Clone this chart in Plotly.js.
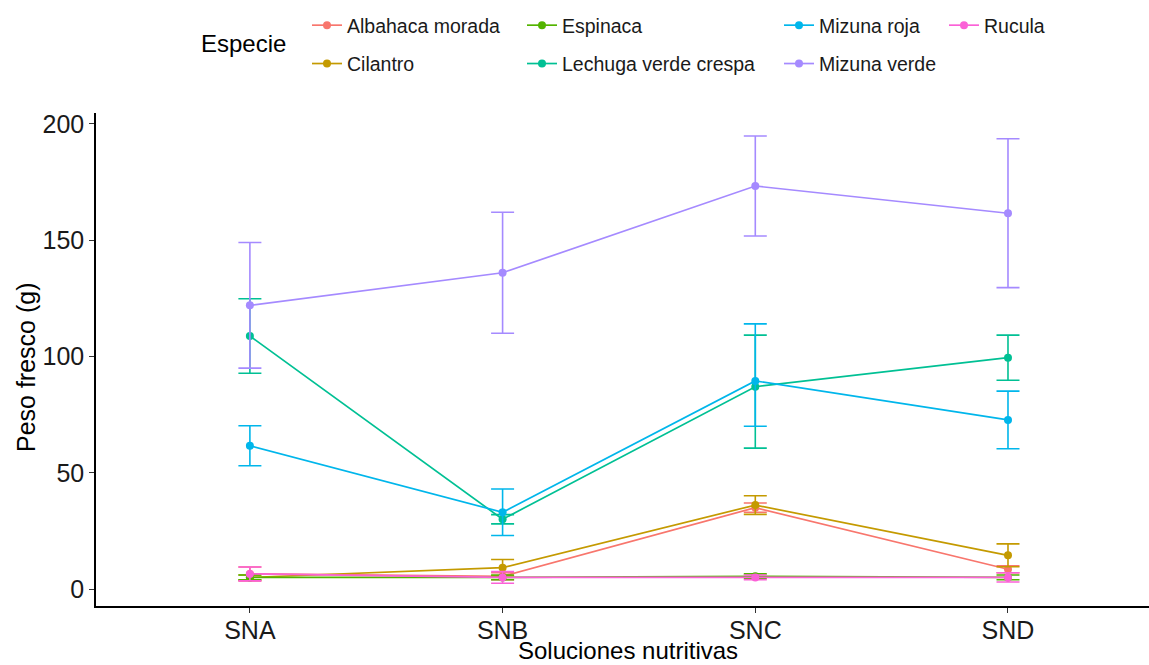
<!DOCTYPE html>
<html>
<head>
<meta charset="utf-8">
<script src="https://cdn.plot.ly/plotly-3.0.1.min.js"></script>
<style>html,body{margin:0;padding:0;background:#fff;}#chart{width:1149px;height:665px;}</style>
</head>
<body>
<div id="chart"></div>
<script>
// Categories (nutrient solutions)
const soluciones = ["SNA", "SNB", "SNC", "SND"];
const especies = ["Albahaca morada", "Cilantro", "Espinaca", "Lechuga verde crespa", "Mizuna roja", "Mizuna verde", "Rucula"];
const yTicks = [0, 50, 100, 150, 200];

// Mean fresh weight (g) per species
const albahacaMorada = [6.5, 5.5, 35.0, 8.5];
const cilantro = [5.0, 9.2, 36.1, 14.5];
const espinaca = [5.0, 5.0, 5.5, 5.0];
const lechugaVerdeCrespa = [108.8, 30.0, 87.0, 99.5];
const mizunaRoja = [61.6, 33.0, 89.5, 72.7];
const mizunaVerde = [122.0, 136.0, 173.3, 161.6];
const rucula = [6.5, 5.0, 5.0, 5.0];

// Error bars (upper / lower)
const albahacaErrUp = [3.0, 1.5, 2.0, 1.5];
const albahacaErrDn = [3.0, 1.5, 2.0, 1.5];
const cilantroErrUp = [1.0, 3.5, 4.0, 4.9];
const cilantroErrDn = [1.0, 3.5, 4.0, 4.9];
const espinacaErrUp = [1.0, 1.0, 1.0, 1.0];
const espinacaErrDn = [1.0, 1.0, 1.0, 1.0];
const lechugaErrUp = [16.0, 2.0, 22.2, 9.7];
const lechugaErrDn = [16.0, 2.0, 26.4, 9.7];
const mizunaRojaErrUp = [8.6, 10.0, 24.5, 12.4];
const mizunaRojaErrDn = [8.6, 10.0, 19.5, 12.4];
const mizunaVerdeErrUp = [27.0, 26.0, 21.5, 32.0];
const mizunaVerdeErrDn = [27.0, 26.0, 21.5, 32.0];
const ruculaErrUp = [3.0, 2.5, 1.0, 2.0];
const ruculaErrDn = [3.0, 2.5, 1.0, 2.0];

const colores = ["#F8766D", "#C49A00", "#53B400", "#00C094", "#00B6EB", "#A58AFF", "#FB61D7"];
const valores = [albahacaMorada, cilantro, espinaca, lechugaVerdeCrespa, mizunaRoja, mizunaVerde, rucula];
const errUp = [albahacaErrUp, cilantroErrUp, espinacaErrUp, lechugaErrUp, mizunaRojaErrUp, mizunaVerdeErrUp, ruculaErrUp];
const errDn = [albahacaErrDn, cilantroErrDn, espinacaErrDn, lechugaErrDn, mizunaRojaErrDn, mizunaVerdeErrDn, ruculaErrDn];
const legendOf = ["legend", "legend", "legend2", "legend2", "legend3", "legend3", "legend4"];

const FONT = "Liberation Sans, Arial, sans-serif";

const traces = especies.map((name, i) => ({
  type: "scatter",
  mode: "lines+markers",
  name: name,
  x: soluciones,
  y: valores[i],
  line: {color: colores[i], width: 1.7},
  marker: {color: colores[i], size: 8},
  error_y: {type: "data", symmetric: false, array: errUp[i], arrayminus: errDn[i], color: colores[i], thickness: 1.6, width: 11.5},
  legend: legendOf[i],
  legendgroup: "g" + i,
  hoverinfo: "x+y+name"
}));

const legBase = {
  xref: "container", yref: "container",
  xanchor: "left", yanchor: "top",
  orientation: "v",
  font: {family: FONT, size: 19.5, color: "#1a1a1a"},
  bgcolor: "rgba(0,0,0,0)",
  tracegroupgap: 10,
  itemclick: false, itemdoubleclick: false
};
const ytop = 1 - 6 / 665;

const layout = {
  width: 1149, height: 665,
  paper_bgcolor: "#ffffff", plot_bgcolor: "#ffffff",
  font: {family: FONT, color: "#1a1a1a"},
  margin: {l: 96, r: 0, t: 113, b: 59, pad: 0, autoexpand: false},
  showlegend: true,
  legend: Object.assign({}, legBase, {x: 307 / 1149, y: ytop}),
  legend2: Object.assign({}, legBase, {x: 522 / 1149, y: ytop}),
  legend3: Object.assign({}, legBase, {x: 779 / 1149, y: ytop}),
  legend4: Object.assign({}, legBase, {x: 944 / 1149, y: ytop}),
  xaxis: {
    type: "category",
    categoryorder: "array", categoryarray: soluciones,
    range: [-0.609, 3.558],
    showline: true, linecolor: "#000000", linewidth: 1.5,
    ticks: "outside", ticklen: 5, tickwidth: 1.2, tickcolor: "#333333",
    ticklabelstandoff: -4,
    showgrid: false, zeroline: false,
    tickfont: {family: FONT, size: 25, color: "#1a1a1a"}
  },
  yaxis: {
    range: [-7.3, 204.7],
    tickvals: yTicks,
    showline: true, linecolor: "#000000", linewidth: 1.5,
    ticks: "outside", ticklen: 5, tickwidth: 1.2, tickcolor: "#333333",
    showgrid: false, zeroline: false,
    tickfont: {family: FONT, size: 25, color: "#1a1a1a"}
  },
  annotations: [
    {
      text: "Especie", xref: "paper", yref: "paper",
      x: (243 - 96) / 1053, y: 1 + (113 - 43) / 493,
      xanchor: "center", yanchor: "middle", showarrow: false,
      font: {family: FONT, size: 24, color: "#000"}
    },
    {
      text: "Soluciones nutritivas", xref: "paper", yref: "paper",
      x: (628 - 96) / 1053, y: -(650 - 606) / 493,
      xanchor: "center", yanchor: "middle", showarrow: false,
      font: {family: FONT, size: 24, color: "#000"}
    },
    {
      text: "Peso fresco (g)", xref: "paper", yref: "paper",
      x: -(96 - 26) / 1053, y: (606 - 367) / 493,
      xanchor: "center", yanchor: "middle", showarrow: false, textangle: -90,
      font: {family: FONT, size: 25, color: "#000"}
    }
  ]
};

Plotly.newPlot("chart", traces, layout, {displayModeBar: false, staticPlot: false});
</script>
</body>
</html>
